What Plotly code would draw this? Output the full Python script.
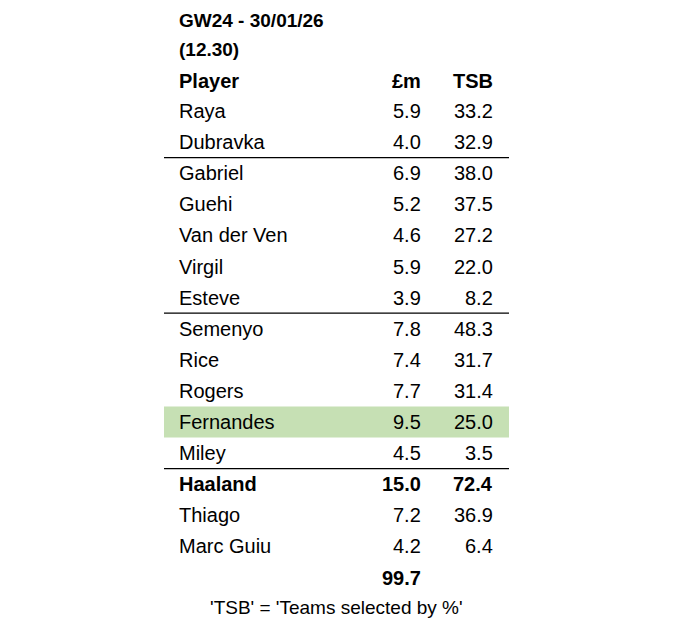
import plotly.graph_objects as go

players = ["Raya","Dubravka","Gabriel","Guehi","Van der Ven","Virgil","Esteve",
           "Semenyo","Rice","Rogers","Fernandes","Miley","Haaland","Thiago","Marc Guiu"]
prices = [5.9,4.0,6.9,5.2,4.6,5.9,3.9,7.8,7.4,7.7,9.5,4.5,15.0,7.2,4.2]
tsb = [33.2,32.9,38.0,37.5,27.2,22.0,8.2,48.3,31.7,31.4,25.0,3.5,72.4,36.9,6.4]
bold_rows = ["Haaland"]
highlight_rows = ["Fernandes"]
separators_after = ["Dubravka","Esteve","Miley"]
total = 99.7
title1 = "GW24 - 30/01/26"
title2 = "(12.30)"
headers = ["Player","£m","TSB"]
footnote = "'TSB' = 'Teams selected by %'"

FONT = "Liberation Sans, Arial"
OX, OY = -9, -7
y0, dy = 110 + OY, 31.1
xP, xM, xT = 178 + OX, 424 + OX, 496 + OX
xl, xr = 165 + OX, 510 + OX

fig = go.Figure()
ann = []
shapes = []
def t(x, y, s, anchor="left", bold=False, size=20):
    ann.append(dict(x=x, y=y, text=f"<b>{s}</b>" if bold else s, xanchor=anchor,
                    yanchor="middle", showarrow=False, font=dict(family=FONT, size=size, color="black")))

t(xP, 19 + OY, title1, bold=True, size=19)
t(xP, 48 + OY, title2, bold=True, size=19)
t(xP, 80 + OY, headers[0], bold=True)
t(xM, 80 + OY, headers[1], "right", bold=True)
t(xT, 80 + OY, headers[2], "right", bold=True)
for i, (p, m, s) in enumerate(zip(players, prices, tsb)):
    y = y0 + i * dy
    b = p in bold_rows
    if p in highlight_rows:
        shapes.append(dict(type="rect", x0=xl, x1=xr, y0=y - 15.5, y1=y + 15.5,
                           fillcolor="#c6e0b4", line_width=0, layer="below"))
    t(xP, y, p, bold=b)
    t(xM, y, f"{m:.1f}", "right", bold=b)
    t(xT, y, f"{s:.1f}", "right", bold=b)
    if p in separators_after:
        shapes.append(dict(type="line", x0=xl, x1=xr, y0=y + 15.5, y1=y + 15.5,
                           line=dict(color="black", width=1.3)))
yt = y0 + len(players) * dy
t(xM, yt, f"{total:.1f}", "right", bold=True)
t(337 + OX, yt + 30, footnote, "center", size=19)

fig.add_trace(go.Scatter(x=[0], y=[0], mode="markers", marker=dict(opacity=0), hoverinfo="skip"))
fig.update_layout(width=695, height=633, margin=dict(l=0, r=0, t=0, b=0),
                  paper_bgcolor="white", plot_bgcolor="white", showlegend=False,
                  xaxis=dict(range=[0, 695], visible=False, fixedrange=True),
                  yaxis=dict(range=[633, 0], visible=False, fixedrange=True),
                  annotations=ann, shapes=shapes)
fig.write_html("out.html")
